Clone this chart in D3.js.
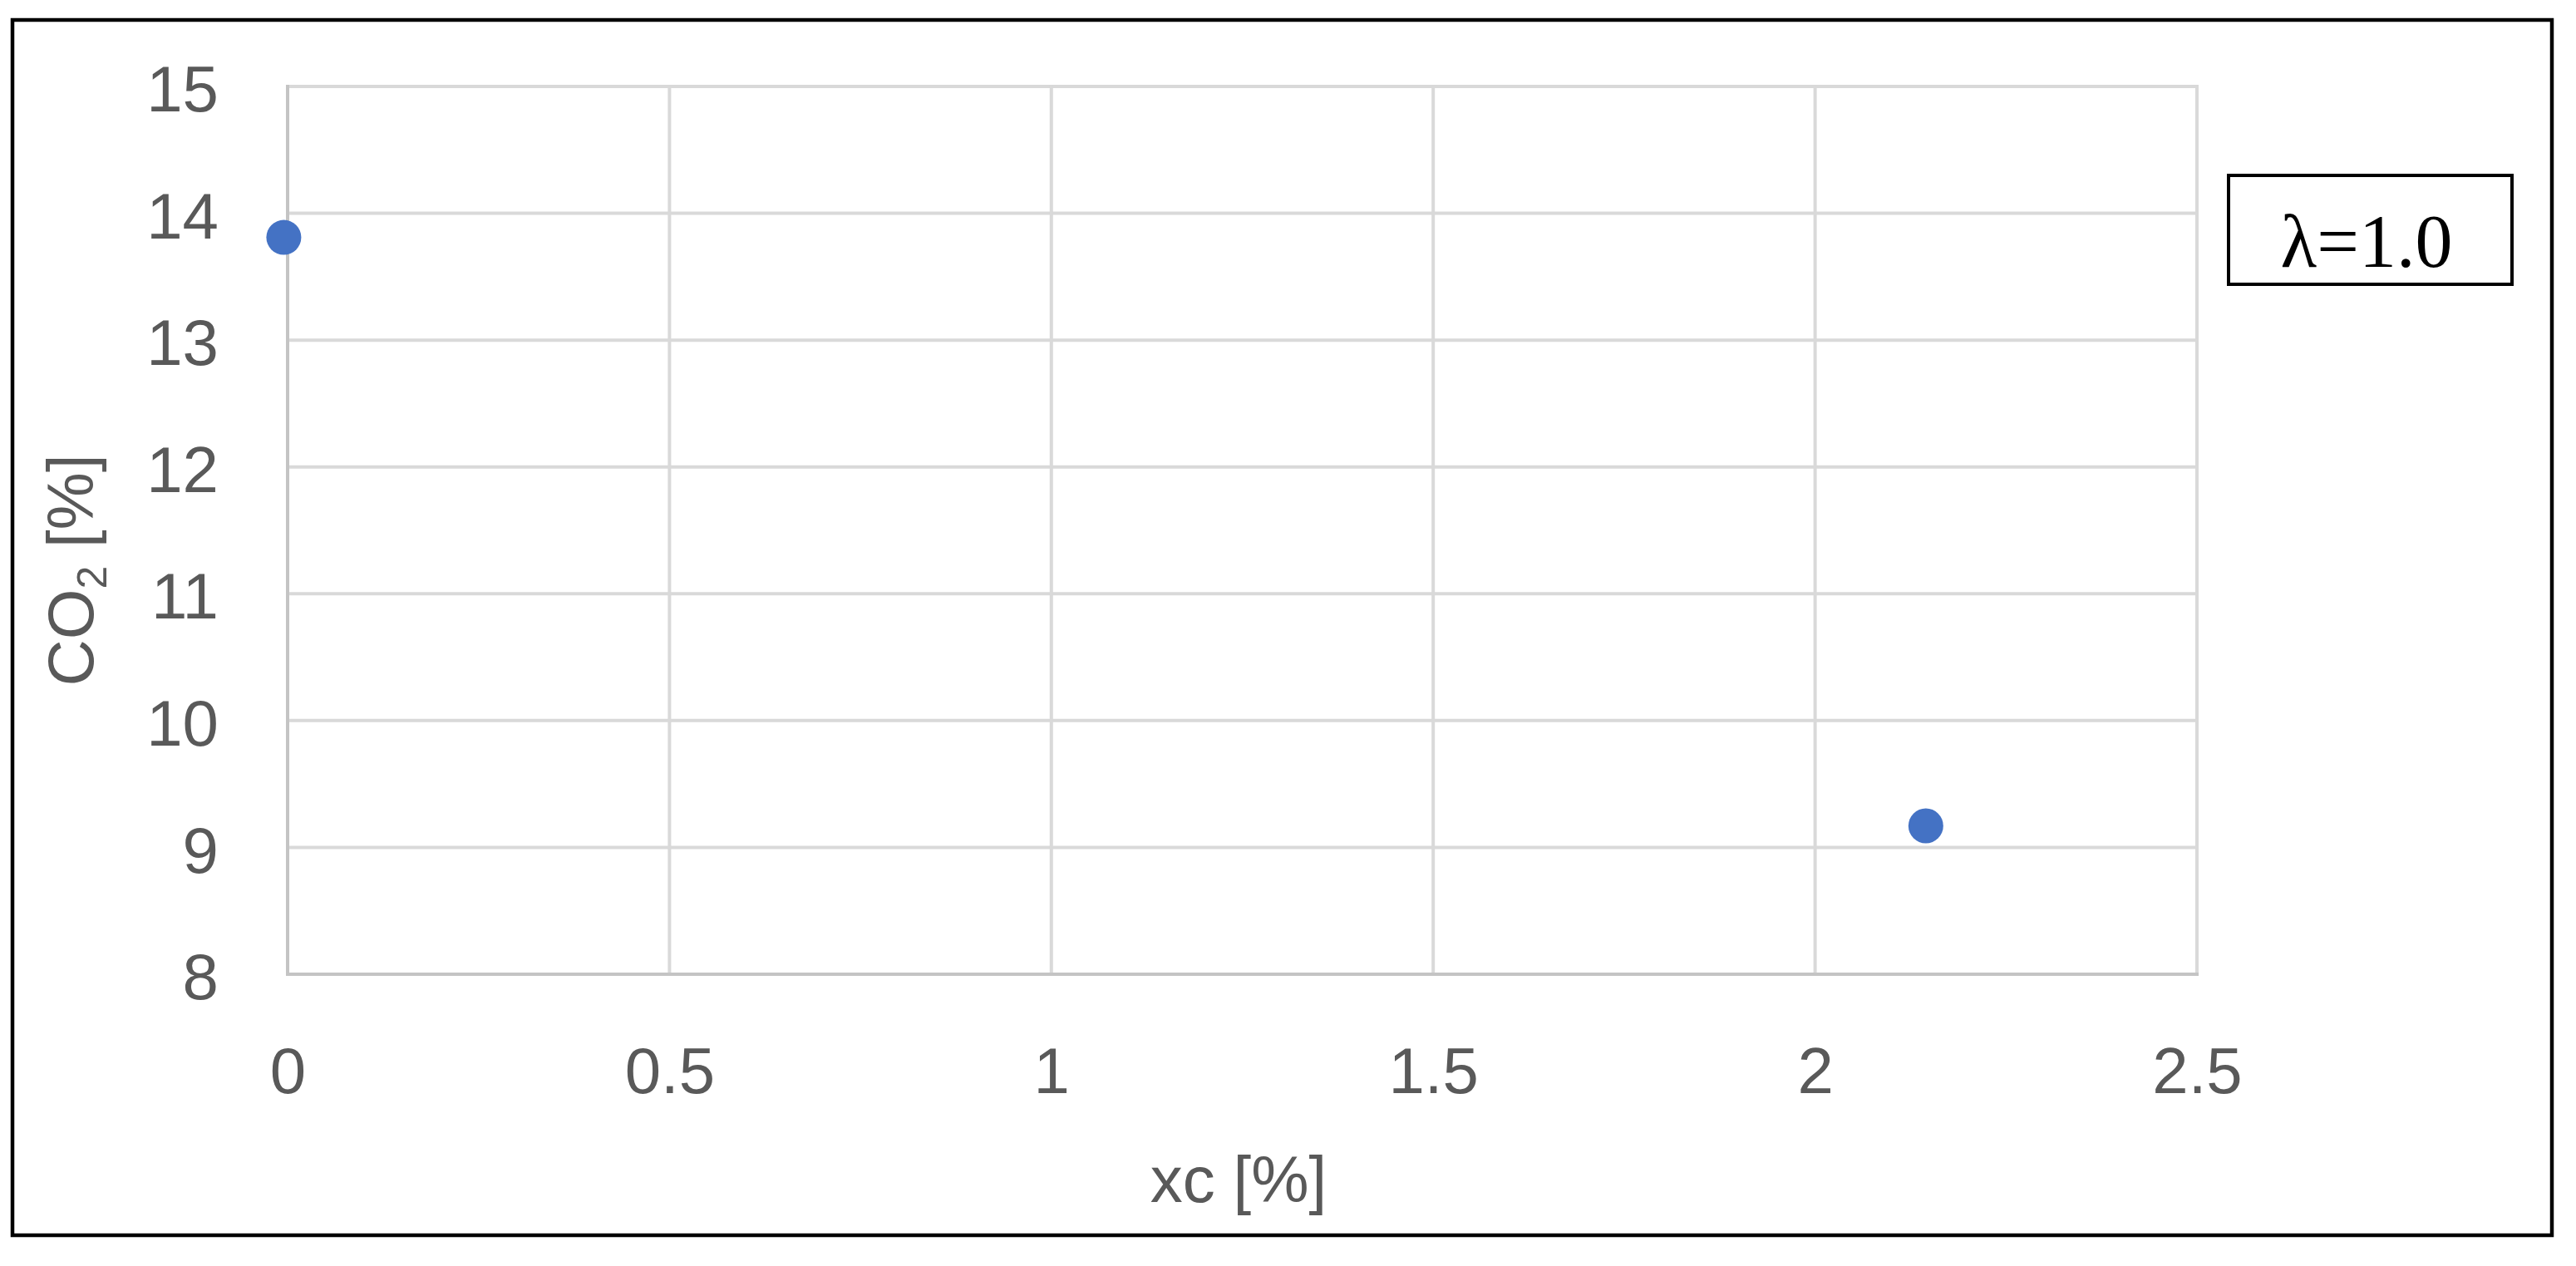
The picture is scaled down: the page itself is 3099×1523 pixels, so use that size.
<!DOCTYPE html>
<html>
<head>
<meta charset="utf-8">
<script src="https://cdn.jsdelivr.net/npm/d3@7/dist/d3.min.js"></script>
<style>
  html, body { margin: 0; padding: 0; background: #ffffff; }
  svg { display: block; }
</style>
</head>
<body>
<svg id="chart" width="3099" height="1523"></svg>
<script>
// ---- Data ----
const xTicks = [0, 0.5, 1, 1.5, 2, 2.5];
const yTicks = [8, 9, 10, 11, 12, 13, 14, 15];
const xcValues = [-0.005, 2.145];
const co2Values = [13.81, 9.17];
const legendLabel = "λ=1.0";
const xTitle = "xc [%]";

// ---- Layout ----
const W = 3099, H = 1523;
const plot = { left: 346, right: 2643, top: 104, bottom: 1172 };
const svg = d3.select("#chart");

svg.append("rect").attr("x", 0).attr("y", 0).attr("width", W).attr("height", H).attr("fill", "#ffffff");

// Outer frame
svg.append("rect")
  .attr("x", 15).attr("y", 24).attr("width", 3055).attr("height", 1462)
  .attr("fill", "none").attr("stroke", "#000000").attr("stroke-width", 4.5);

const x = d3.scaleLinear().domain([0, 2.5]).range([plot.left, plot.right]);
const y = d3.scaleLinear().domain([8, 15]).range([plot.bottom, plot.top]);

const font = "'Liberation Sans', Arial, sans-serif";
const textColor = "#595959";

// Gridlines
const grid = svg.append("g");
grid.selectAll("line.h").data(yTicks.filter(d => d !== 8)).join("line")
  .attr("x1", plot.left).attr("x2", plot.right)
  .attr("y1", d => y(d)).attr("y2", d => y(d))
  .attr("stroke", "#D9D9D9").attr("stroke-width", 4);
grid.selectAll("line.v").data(xTicks.filter(d => d !== 0)).join("line")
  .attr("y1", plot.top - 2).attr("y2", plot.bottom)
  .attr("x1", d => x(d)).attr("x2", d => x(d))
  .attr("stroke", "#D9D9D9").attr("stroke-width", 4);

// Axis lines
svg.append("line")
  .attr("x1", x(0)).attr("x2", x(0)).attr("y1", plot.top - 2).attr("y2", plot.bottom + 2)
  .attr("stroke", "#C4C4C4").attr("stroke-width", 4);
svg.append("line")
  .attr("x1", plot.left - 2).attr("x2", plot.right + 2).attr("y1", y(8)).attr("y2", y(8))
  .attr("stroke", "#C4C4C4").attr("stroke-width", 4);

// X axis labels
const xAxis = d3.axisBottom(x).tickValues(xTicks).tickSize(0).tickPadding(0)
  .tickFormat(d3.format("~g"));
const gx = svg.append("g").attr("transform", `translate(0,${plot.bottom})`).call(xAxis);
gx.select(".domain").remove();
gx.selectAll("text")
  .attr("y", 143).attr("dy", null)
  .attr("font-family", font).attr("font-size", 78).attr("fill", textColor);

// Y axis labels
const yAxis = d3.axisLeft(y).tickValues(yTicks).tickSize(0).tickPadding(83)
  .tickFormat(d3.format("~g"));
const gy = svg.append("g").attr("transform", `translate(${plot.left},0)`).call(yAxis);
gy.select(".domain").remove();
gy.selectAll("text")
  .attr("dy", "0.38em")
  .attr("font-family", font).attr("font-size", 78).attr("fill", textColor);

// Points
svg.append("g").selectAll("circle").data(xcValues.map((v, i) => [v, co2Values[i]])).join("circle")
  .attr("cx", d => x(d[0])).attr("cy", d => y(d[1])).attr("r", 21)
  .attr("fill", "#4472C4");

// X title
svg.append("text")
  .attr("x", 1490).attr("y", 1446).attr("text-anchor", "middle")
  .attr("font-family", font).attr("font-size", 78).attr("fill", textColor)
  .text(xTitle);

// Y title
const yt = svg.append("text")
  .attr("transform", "translate(112,686) rotate(-90)")
  .attr("text-anchor", "middle")
  .attr("font-family", font).attr("font-size", 78).attr("fill", textColor);
yt.append("tspan").text("CO");
yt.append("tspan").attr("font-size", 50).attr("dy", 16).text("2");
yt.append("tspan").attr("dy", -16).text(" [%]");

// Legend box
svg.append("rect")
  .attr("x", 2681).attr("y", 211).attr("width", 341).attr("height", 131)
  .attr("fill", "#ffffff").attr("stroke", "#000000").attr("stroke-width", 4);
svg.append("text")
  .attr("x", 2847).attr("y", 321).attr("text-anchor", "middle")
  .attr("font-family", "'Liberation Serif', 'Times New Roman', serif")
  .attr("font-size", 90).attr("fill", "#000000")
  .text(legendLabel);
</script>
</body>
</html>
